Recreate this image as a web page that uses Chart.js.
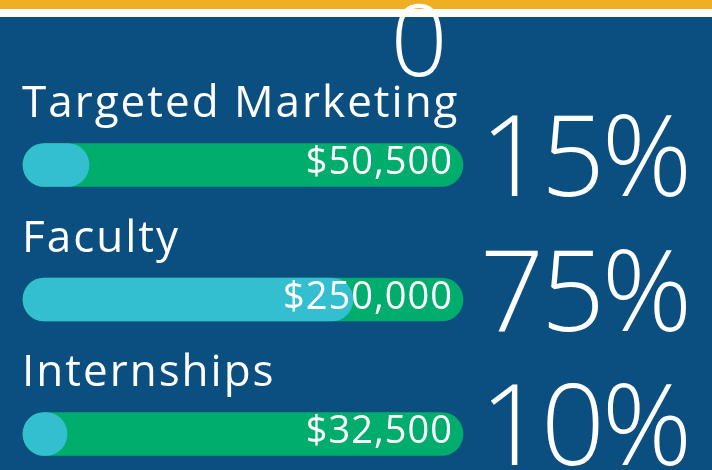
<!DOCTYPE html>
<html>
<head>
<meta charset="utf-8">
<script src="https://cdn.jsdelivr.net/npm/chart.js@4/dist/chart.umd.min.js"></script>
<style>
    html, body { margin: 0; padding: 0; background: #0a4f7f; }
    canvas { display: block; }
</style>
</head>
<body>
<canvas id="budget-chart" width="712" height="470"></canvas>
<script>
const categories = ['Targeted Marketing', 'Faculty', 'Internships'];
const amounts = [50500, 250000, 32500];
const sharePercents = [15, 75, 10];
const trackPercents = [100, 100, 100];
const headerText = '0';

const
    bgColor = '#0a4f7f',
    trackColor = '#00ad6c',
    shareColor = '#33bfcf',
    fontName = "'Open Sans', sans-serif";

function money(v) {
    return '$' + v.toLocaleString('en-US');
}

const budgetLabels = {
    id: 'budgetLabels',
    beforeDraw(chart) {
        const { ctx, width, height } = chart;
        ctx.save();
        ctx.fillStyle = bgColor;
        ctx.fillRect(0, 0, width, height);
        ctx.fillStyle = '#f0ae22';
        ctx.fillRect(0, 0, width, 9);
        ctx.fillStyle = '#ffffff';
        ctx.fillRect(0, 9, width, 8);
        ctx.restore();
    },
    afterDatasetsDraw(chart) {
        const { ctx, scales: { x, y } } = chart;
        const left = x.getPixelForValue(0), right = x.getPixelForValue(100);
        ctx.save();
        ctx.fillStyle = '#ffffff';
        ctx.textBaseline = 'alphabetic';

        categories.forEach((name, i) => {
            const cy = y.getPixelForValue(i);

            ctx.textAlign = 'left';
            ctx.letterSpacing = '2px';
            ctx.font = '400 44px ' + fontName;
            ctx.fillText(name, left - 1, cy - 48);

            ctx.textAlign = 'right';
            ctx.letterSpacing = '1px';
            ctx.font = '400 38px ' + fontName;
            ctx.fillText(money(amounts[i]), right - 10, cy + 9);

            ctx.textAlign = 'left';
            ctx.letterSpacing = '-3px';
            ctx.font = '300 112px ' + fontName;
            ctx.fillText(sharePercents[i] + '%', right + 17, cy + 31);
        });

        ctx.textAlign = 'center';
        ctx.letterSpacing = '0px';
        ctx.font = '300 100px ' + fontName;
        ctx.fillText(headerText, 419, 76);
        ctx.restore();
    }
};

const ctx = document.getElementById('budget-chart').getContext('2d');

new Chart(ctx, {
    type: 'bar',
    plugins: [budgetLabels],
    data: {
        labels: categories,
        datasets: [{
            label: 'Share',
            data: sharePercents,
            backgroundColor: shareColor,
            order: 0,
            clip: false
        }, {
            label: 'Budget',
            data: trackPercents,
            backgroundColor: trackColor,
            order: 1,
            clip: false
        }]
    },
    options: {
        indexAxis: 'y',
        responsive: false,
        animation: false,
        layout: {
            padding: { left: 23, right: 249, top: 165, bottom: 36 }
        },
        datasets: {
            bar: {
                grouped: false,
                barThickness: 43,
                borderRadius: 22,
                borderSkipped: false
            }
        },
        scales: {
            x: { display: false, min: 0, max: 100 },
            y: { display: false, offset: false }
        },
        plugins: {
            legend: { display: false },
            tooltip: { enabled: false }
        }
    }
});
</script>
</body>
</html>
